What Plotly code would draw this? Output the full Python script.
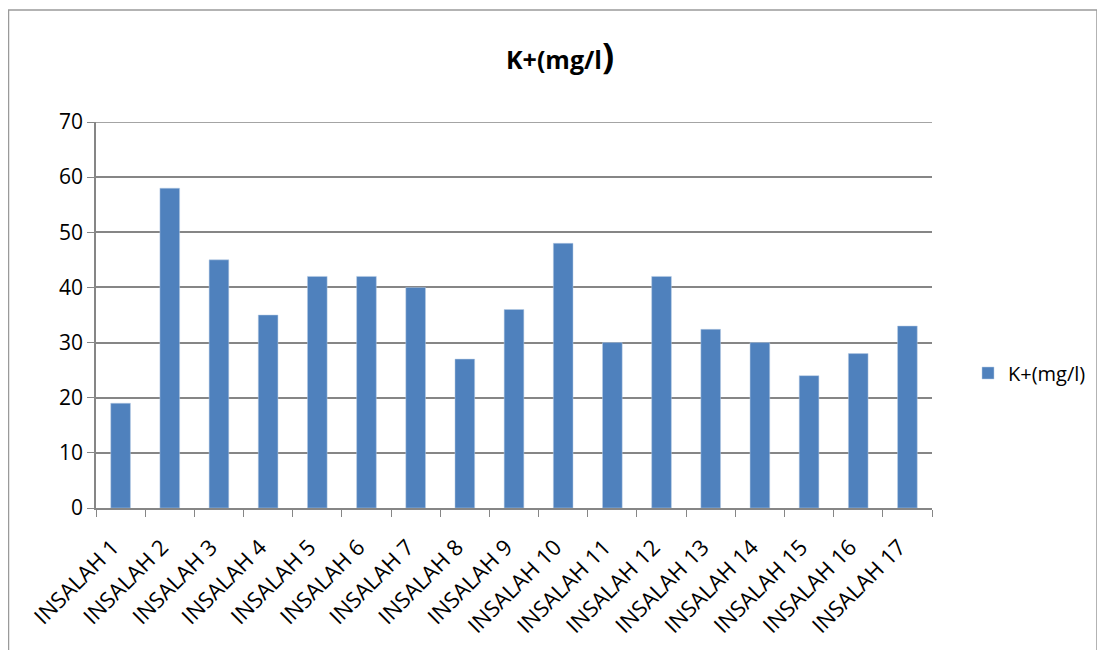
import plotly.graph_objects as go

categories = [f"INSALAH {i}" for i in range(1, 18)]
values = [19, 58, 45, 35, 42, 42, 40, 27, 36, 48, 30, 42, 32.4, 30, 24, 28, 33]
series_name = "K+(mg/l)"
y_ticks = [0, 10, 20, 30, 40, 50, 60, 70]

# page has an 8px body margin: figure coords = screen coords - 8
OFF = 8
W, H = 1105 - OFF, 650 - OFF
L, R, T, B = 96 - OFF, 1105 - 932, 122 - OFF, 650 - 508
pw, ph = W - L - R, H - T - B

def px(x):
    return (x - OFF - L) / pw

def py(y):
    return (H - B - (y - OFF)) / ph

fig = go.Figure()
fig.add_trace(go.Bar(x=categories, y=values, name=series_name,
                     marker=dict(color="#4F81BD", line=dict(color="#B9CDE5", width=0.5))))

grid = "#868686"
font = "Open Sans, Liberation Sans, sans-serif"
fig.update_layout(
    width=W, height=H,
    margin=dict(l=L, r=R, t=T, b=B),
    paper_bgcolor="white", plot_bgcolor="white",
    bargap=0.6,
    font=dict(family=font, color="#000000"),
    showlegend=True,
    legend=dict(x=px(968), y=py(373), xanchor="left", yanchor="middle",
                font=dict(size=20, family=font), bgcolor="rgba(0,0,0,0)"),
    xaxis=dict(showgrid=False, showline=True, linecolor=grid, linewidth=1.5,
               ticks="outside", tickson="boundaries", ticklen=7, tickcolor=grid,
               tickangle=-45, tickfont=dict(size=22, family=font),
               ticklabelstandoff=16, ticklabelshift=-8),
    yaxis=dict(range=[0, 70], tickvals=y_ticks, showgrid=True, gridcolor=grid, gridwidth=1.5,
               showline=True, linecolor=grid, linewidth=1.5,
               ticks="outside", ticklen=7, tickcolor=grid,
               tickfont=dict(size=21, family=font), zeroline=False),
    shapes=[dict(type="rect", xref="paper", yref="paper",
                 x0=px(8.5), x1=px(1097), y0=py(670), y1=py(10),
                 line=dict(color="#9A9A9A", width=1.5), fillcolor="rgba(0,0,0,0)", layer="below"),
            dict(type="line", xref="paper", yref="y", x0=0, x1=1, y0=y_ticks[-1], y1=y_ticks[-1],
                 line=dict(color=grid, width=1.5), layer="below")],
    annotations=[dict(xref="paper", yref="paper", x=px(560), y=py(55), xanchor="center", yanchor="middle",
                      text="<b>K+(mg/l<span style='font-size:36px'>)</span></b>", showarrow=False,
                      font=dict(size=25, family=font))],
)

fig.write_html("out.html")
